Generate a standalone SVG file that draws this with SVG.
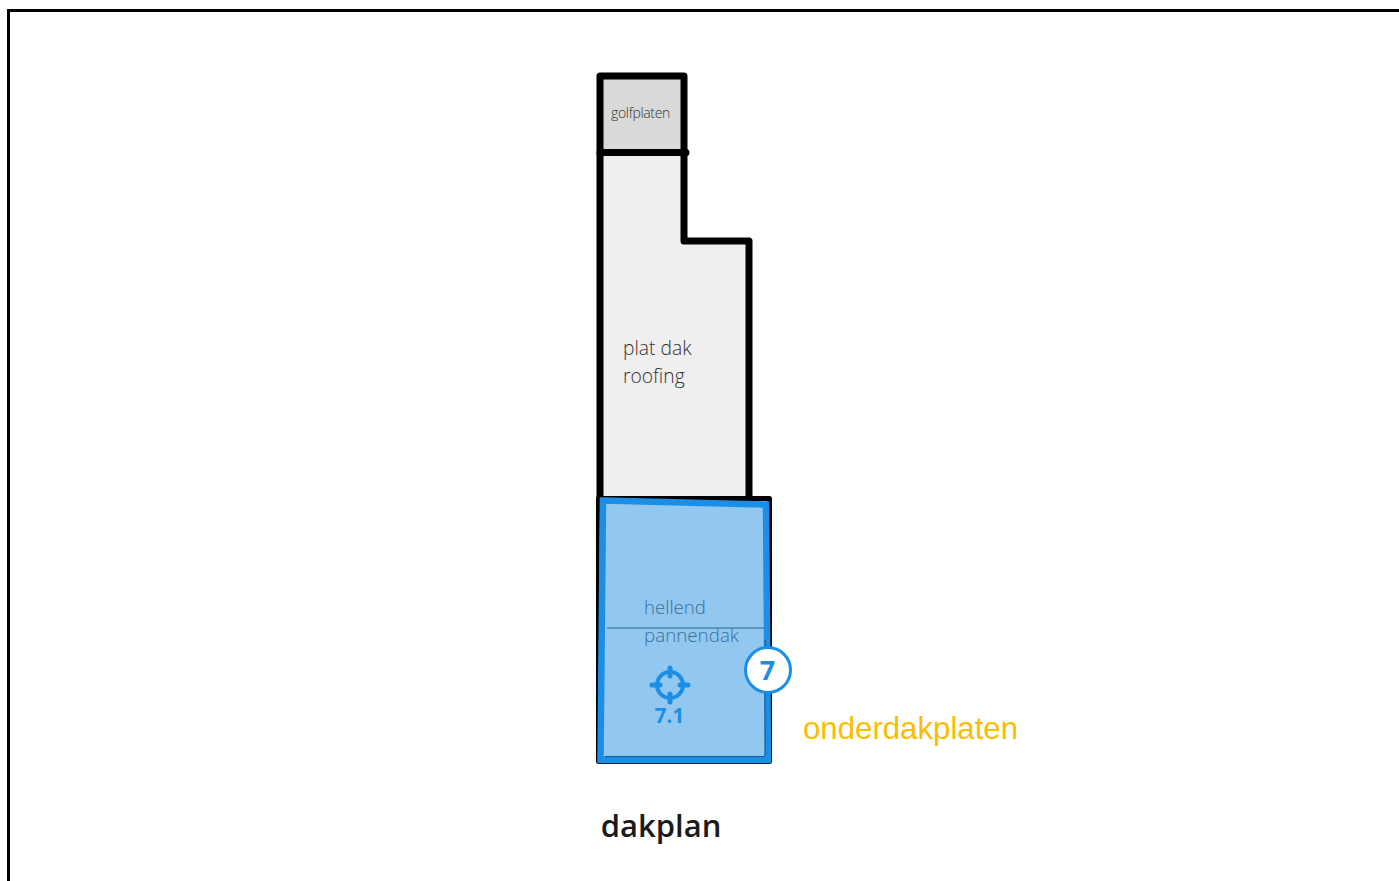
<svg xmlns="http://www.w3.org/2000/svg" width="1399" height="881" viewBox="0 0 1399 881">
<style>
.o{fill:none;stroke:#000;stroke-linejoin:round;stroke-linecap:round}
.t{font-family:"Open Sans","Noto Sans",sans-serif;font-weight:300;fill:#333}
.h{fill:#3a6f98}
.b{font-family:"Open Sans","Noto Sans",sans-serif;font-weight:700}
</style>
<rect width="1399" height="881" fill="#fff"/>
<path d="M1399 10.500H8.500V881" fill="none" stroke="#000" stroke-width="3"/>
<g id="golfplaten">
<rect x="600" y="76" width="84" height="77" fill="#d9d9d9"/>
<text class="t" x="640.500" y="118" font-size="14" text-anchor="middle" letter-spacing="-.35">golfplaten</text>
</g>
<g id="plat-dak">
<path d="M600 153H684V241H749V500H600Z" fill="#efefef"/>
<text class="t" x="623" y="355" font-size="19.300">plat dak</text>
<text class="t" x="623" y="383" font-size="19.300">roofing</text>
</g>
<g id="outline">
<path class="o" stroke-width="7" d="M600 760V76H684V241H749V498"/>
<path class="o" stroke-width="7" d="M600 152.500H686"/>
<path class="o" stroke-width="5" d="M598.500 498.500H769.500V761.500H598.500Z"/>
</g>
<g id="hellend">
<path d="M600 499L767 503L768 761L598 762Z" fill="#92c8f0"/>
<path d="M607 628H764" stroke="#27638f" stroke-width="1"/>
<text x="644" y="614" font-size="18.600" class="t h" style="fill:#3a6f98">hellend</text>
<text x="644" y="642" font-size="18.800" class="t h" style="fill:#3a6f98">pannendak</text>
<path d="M603 500.500L766 504.500L768 760H600.500Z" fill="none" stroke="#1c8ee6" stroke-width="6.500"/>
<path d="M765 640V756.500H605" fill="none" stroke="#14598f" stroke-width="1"/>
</g>
<g id="marker-7">
<circle cx="768" cy="670" r="22.500" fill="#fff" stroke="#1c8ee6" stroke-width="3"/>
<text class="b" x="767.500" y="680" font-size="27" text-anchor="middle" fill="#1c8ee6">7</text>
</g>
<g id="marker-7-1">
<circle cx="670" cy="685" r="13" fill="none" stroke="#1c8ee6" stroke-width="4"/>
<path d="M670 668V676M670 694V702M652 685H660M680 685H688" stroke="#1c8ee6" stroke-width="5" stroke-linecap="round"/>
<text class="b" x="669.500" y="723" font-size="20.500" text-anchor="middle" fill="#1c8ee6">7.1</text>
</g>
<text id="onderdakplaten" x="803" y="739" font-size="31.200" font-family="'Liberation Sans',Arial,sans-serif" fill="#fbbc04">onderdakplaten</text>
<text id="dakplan" class="b" x="661" y="837" font-size="31" text-anchor="middle" fill="#1a1a1a" style="font-weight:600">dakplan</text>
</svg>
